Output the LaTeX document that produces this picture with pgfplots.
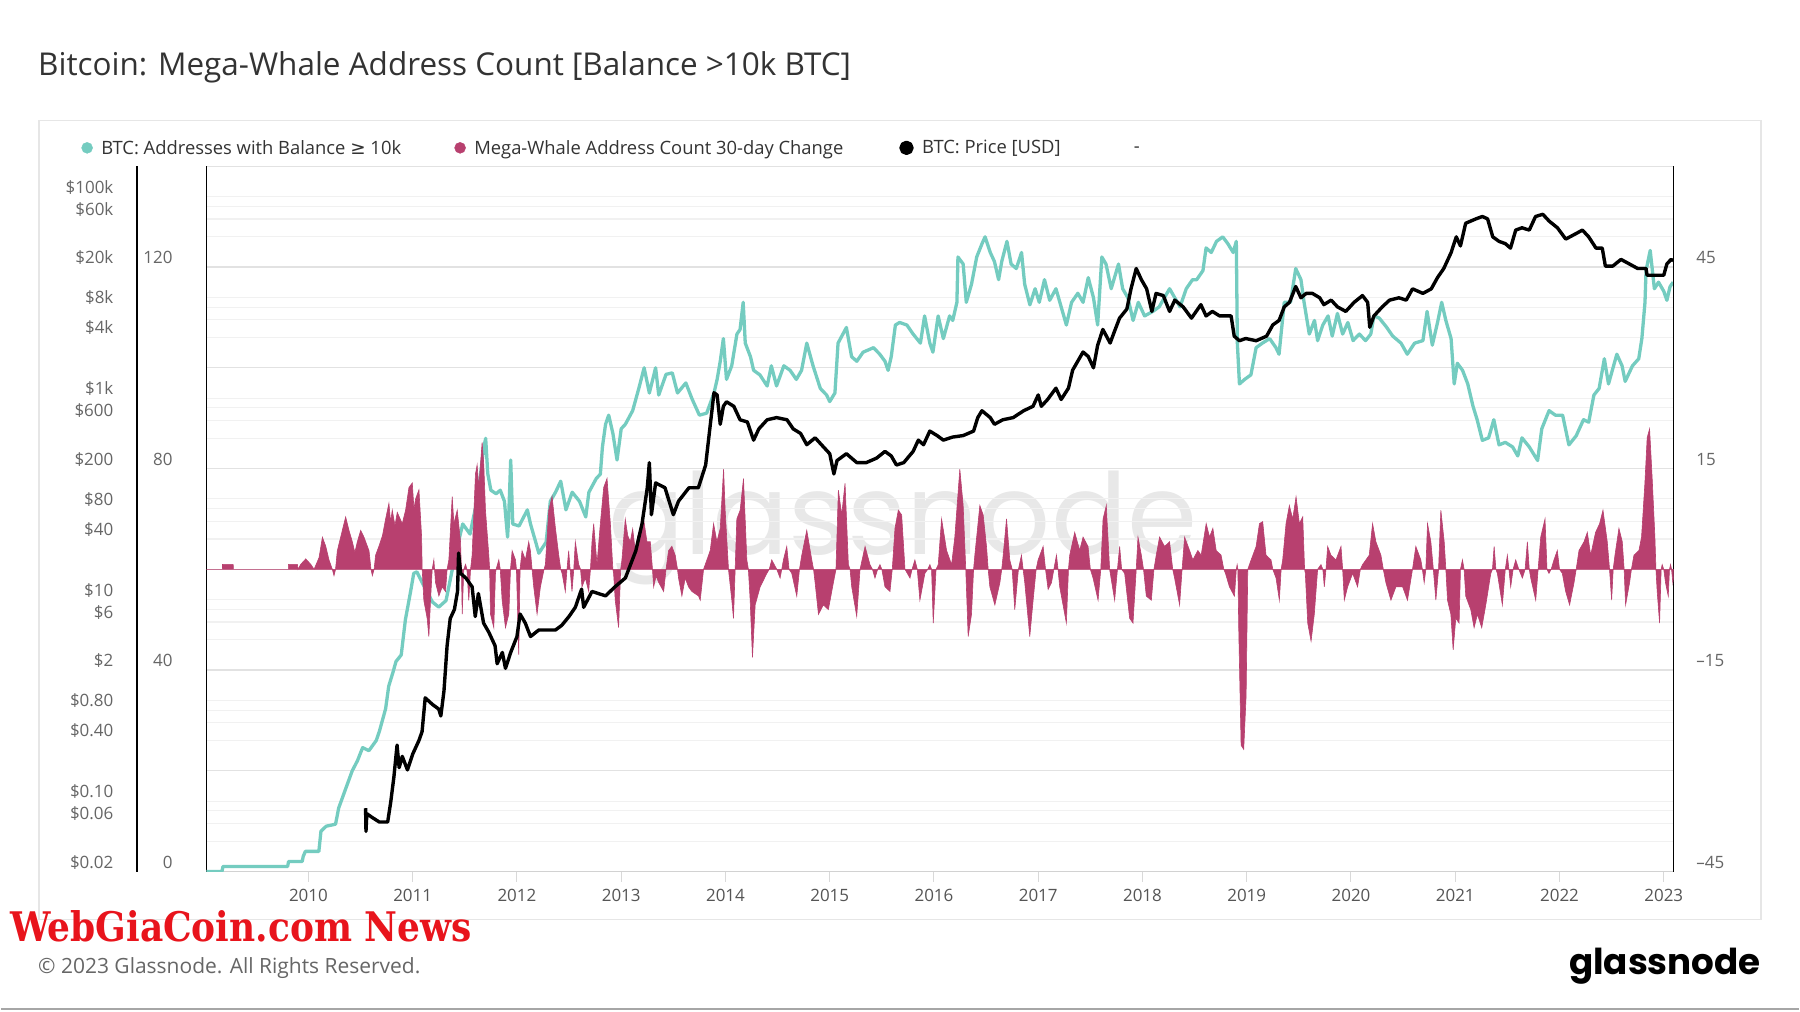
\documentclass[border=0pt]{standalone}
\usepackage{fontspec}
\usepackage{graphicx}
\usepackage{pgfplots}
\pgfplotsset{compat=1.18}
\setmainfont{Open Sans}
\newfontfamily\symb{DejaVu Sans}
\newfontfamily\logofont{Poppins}
\newfontfamily\wgfont{DejaVu Serif}
\definecolor{teal1}{HTML}{74CCC0}
\definecolor{mag}{HTML}{B8406F}
\definecolor{gridA}{HTML}{E2E2E2}
\definecolor{gridB}{HTML}{F1F1F1}
\definecolor{tickc}{HTML}{666666}
\definecolor{yearc}{HTML}{555555}
\definecolor{titlec}{HTML}{333333}
\definecolor{wgred}{HTML}{E8141C}
\definecolor{wm}{HTML}{E8E8E8}
\definecolor{framec}{HTML}{E6E6E6}
\pgfplotsset{
  base/.style={at={(205.5pt,-872.5pt)}, anchor=south west, scale only axis,
    width=1469pt, height=706pt, xmin=2009.02, xmax=2023.095},
  tickfont/.style={font=\fontsize{17}{17}\selectfont},
}
\begin{document}
\begin{tikzpicture}[x=1pt,y=1pt]
\fill[white] (0,0) rectangle (1800,-1013);
\draw[framec, line width=1.5pt] (38,-120.5) rectangle (1762,-920.7);
\node[anchor=base west, inner sep=0pt, text=titlec, font=\fontsize{31.5}{33}\selectfont] at (37,-76) {Bitcoin: Mega-Whale Address Count [Balance >10k BTC]};
\node[anchor=base west, inner sep=0pt, text=wm] at (608,-555) {\resizebox{589pt}{!}{\logofont glassnode}};

% price axis: grid and labels
\begin{axis}[base, ymode=log, ymin=0.02, ymax=200000, xtick=\empty,
  ytick={0.02,0.04,0.06,0.08,0.1,0.2,0.4,0.6,0.8,1,2,4,6,8,10,20,40,60,80,100,200,400,600,800,1000,2000,4000,6000,8000,10000,20000,40000,60000,80000,100000},
  yticklabels={\$0.02,,\$0.06,,\$0.10,,\$0.40,,\$0.80,,\$2,,\$6,,\$10,,\$40,,\$80,,\$200,,\$600,,\$1k,,\$4k,,\$8k,,\$20k,,\$60k,,\$100k},
  ymajorgrids, major grid style={gridB, line width=1.1pt},
  axis line style={draw=none}, ytick style={draw=none}, major tick length=0pt,
  yticklabel style={anchor=east, inner sep=0pt, xshift=-92.8pt, yshift=9.5pt, text=tickc, tickfont}]
\end{axis}

% count axis
\begin{axis}[base, ymin=0, ymax=140, ytick={0,20,...,140}, yticklabels={0,,40,,80,,120,,},
  ymajorgrids, major grid style={gridA, line width=1.3pt},
  axis x line*=bottom, axis y line*=left,
  x axis line style={-, draw=gray!35, line width=1.2pt},
  y axis line style={-, draw=black, line width=1.5pt},
  xtick={2010,2011,2012,2013,2014,2015,2016,2017,2018,2019,2020,2021,2022,2023},
  xticklabels={2010,2011,2012,2013,2014,2015,2016,2017,2018,2019,2020,2021,2022,2023},
  xtick style={draw=gray!30, line width=1pt}, ytick style={draw=none},
  tick align=outside, major tick length=10pt,
  yticklabel style={anchor=east, inner sep=0pt, xshift=-23.5pt, yshift=9.5pt, text=tickc, tickfont},
  xticklabel style={anchor=base, inner sep=0pt, yshift=-20pt, text=yearc, tickfont}]
\addplot[teal1, line width=3.3pt, line join=round] table {
x y
2009.02 0
2009.17 0
2009.18 1
2009.80 1
2009.81 2
2009.94 2
2009.95 3
2009.97 4
2010.10 4
2010.12 8
2010.17 9
2010.26 9.4
2010.29 12.6
2010.36 16.6
2010.42 20
2010.47 22
2010.52 24.6
2010.58 24
2010.65 26
2010.68 27.8
2010.74 32.3
2010.77 36.8
2010.81 39.5
2010.84 41.7
2010.89 43
2010.93 50
2010.98 55.6
2011.01 59.2
2011.04 59.5
2011.10 57
2011.19 53.5
2011.25 52.5
2011.32 53.8
2011.38 60
2011.44 65.5
2011.48 69
2011.55 67
2011.60 72
2011.64 77
2011.68 84
2011.70 86
2011.72 79
2011.75 75.7
2011.80 75
2011.84 75.7
2011.88 73.5
2011.91 66.4
2011.92 70
2011.94 81.7
2011.96 69
2012.02 68.6
2012.10 71.8
2012.13 69
2012.18 65.4
2012.21 63.2
2012.28 65.4
2012.32 73.5
2012.37 75.3
2012.42 77.5
2012.47 71.8
2012.53 75.3
2012.60 73.5
2012.66 70.4
2012.69 75.3
2012.76 78
2012.80 78.9
2012.82 84.3
2012.85 88.8
2012.88 90.6
2012.92 87
2012.96 81.7
2013.00 87.9
2013.04 88.8
2013.11 91.5
2013.17 96
2013.22 100
2013.27 95
2013.33 100
2013.36 94.6
2013.43 98.7
2013.49 99
2013.54 95
2013.62 97
2013.68 93.8
2013.75 90.6
2013.82 91
2013.89 95
2013.92 97.7
2013.95 101.3
2013.98 105.8
2014.01 97.7
2014.06 100.4
2014.11 106.7
2014.14 107.6
2014.17 113
2014.19 104.9
2014.24 102.2
2014.27 99.5
2014.33 98.6
2014.40 96.4
2014.44 100.4
2014.49 96.4
2014.56 100.4
2014.62 99.5
2014.68 97.7
2014.73 99.5
2014.78 104.9
2014.84 100.4
2014.91 95.9
2014.97 94.6
2015.00 93.3
2015.05 95
2015.08 104.9
2015.16 108
2015.21 102.2
2015.26 101.3
2015.32 103.1
2015.42 104
2015.48 102.7
2015.53 101.3
2015.56 99.5
2015.59 102.2
2015.63 108.5
2015.67 109
2015.74 108.5
2015.80 106.7
2015.87 104.9
2015.91 110.3
2015.96 104.9
2015.99 103.1
2016.04 110.3
2016.09 105.8
2016.15 110.3
2016.18 109.4
2016.22 113
2016.23 122
2016.28 120.6
2016.31 113
2016.36 116.6
2016.41 122
2016.46 124.6
2016.49 126
2016.54 122.9
2016.58 121.1
2016.62 117.5
2016.65 121.1
2016.70 125.1
2016.74 120.6
2016.79 119.7
2016.84 122.9
2016.87 116.6
2016.92 112.5
2016.97 115.7
2017.01 113
2017.06 117.5
2017.11 113.4
2017.17 115.7
2017.22 112.1
2017.27 108.5
2017.32 113
2017.38 114.8
2017.43 113
2017.48 117.9
2017.53 113.9
2017.57 108.5
2017.61 122
2017.65 120.6
2017.70 115.7
2017.77 120.6
2017.81 115.7
2017.86 113.9
2017.91 109.4
2017.96 113
2018.02 110.3
2018.10 111.2
2018.16 112.1
2018.26 115.7
2018.36 112.1
2018.42 115.7
2018.48 117.5
2018.52 117.5
2018.58 119.3
2018.61 123.8
2018.66 122.9
2018.71 125.1
2018.77 126
2018.82 124.6
2018.87 122.9
2018.90 125.1
2018.91 104.9
2018.93 96.8
2018.98 97.7
2019.04 98.6
2019.09 104
2019.15 104.9
2019.22 105.8
2019.28 104
2019.31 102.7
2019.36 113
2019.42 113
2019.47 119.7
2019.52 117.5
2019.55 113
2019.60 106.7
2019.65 109.4
2019.68 105.4
2019.73 108.5
2019.78 110.3
2019.82 106.3
2019.87 110.8
2019.92 106.7
2019.97 109
2020.02 105.4
2020.08 106.7
2020.14 105.4
2020.19 106.7
2020.22 110.3
2020.27 109.9
2020.34 108.1
2020.40 106.3
2020.48 104.9
2020.54 102.7
2020.61 104.9
2020.69 105.4
2020.73 111.2
2020.78 104.5
2020.83 109
2020.87 113
2020.91 109.4
2020.96 105.8
2020.99 96.8
2021.02 100.9
2021.07 99.5
2021.12 96.8
2021.17 92.4
2021.21 89.7
2021.26 85.6
2021.32 86.1
2021.37 89.7
2021.42 84.7
2021.48 85.2
2021.55 84.3
2021.60 82.5
2021.64 86.1
2021.71 84.3
2021.79 81.6
2021.83 87.9
2021.90 91.5
2021.96 90.6
2022.03 90.6
2022.09 84.7
2022.16 86.5
2022.23 89.7
2022.28 89.2
2022.33 94.6
2022.38 95.9
2022.43 101.8
2022.47 96.8
2022.55 102.7
2022.60 100.4
2022.63 97.3
2022.70 100.4
2022.76 101.8
2022.79 105.8
2022.82 113
2022.83 119.3
2022.87 123.3
2022.91 115.7
2022.95 117
2023.00 115.2
2023.03 113.4
2023.06 116.1
2023.09 117
};
\end{axis}

% 30-day change axis (right)
\begin{axis}[base, ymin=-45, ymax=60, axis x line=none, axis y line*=right,
  y axis line style={-, draw=black, line width=1.5pt},
  ytick={-45,-15,15,45}, yticklabels={\textendash45,\textendash15,15,45},
  ytick style={draw=none}, major tick length=0pt, xtick=\empty,
  yticklabel style={anchor=west, inner sep=0pt, xshift=22.5pt, yshift=9.5pt, text=tickc, tickfont}]
\addplot[fill=mag, draw=mag, line width=0.6pt] table {
x y
2009.02 0
2009.175 0
2009.176 0.74
2009.278 0.74
2009.28 0
2009.807 0
2009.808 0.74
2009.894 0.74
2009.90 0
2009.926 0.74
2009.974 1.55
2010.022 0.74
2010.054 0
2010.102 1.75
2010.134 4.78
2010.166 3.43
2010.197 1.41
2010.229 0
2010.245 -0.94
2010.26 0
2010.277 2.76
2010.325 5.79
2010.357 7.8
2010.373 6.79
2010.389 5.79
2010.421 4.1
2010.445 2.5
2010.469 4.1
2010.501 5.79
2010.533 4.78
2010.581 2.76
2010.60 0
2010.613 -0.94
2010.63 0
2010.644 2.09
2010.676 3.43
2010.71 5
2010.74 7.47
2010.772 9.82
2010.788 7
2010.804 8.81
2010.83 6.5
2010.852 8.48
2010.9 6.79
2010.932 8.81
2010.964 12.18
2010.996 12.85
2011.012 9
2011.028 10.49
2011.06 11.84
2011.085 5
2011.091 0
2011.107 -4.64
2011.139 -7.33
2011.155 -10.02
2011.171 -4.64
2011.187 0
2011.203 1.41
2011.219 -1.95
2011.251 -3.97
2011.283 -2.62
2011.315 -3.3
2011.33 0
2011.347 1.41
2011.379 10.83
2011.395 6.79
2011.427 8.81
2011.459 4.1
2011.467 0
2011.475 -6.66
2011.49 0
2011.507 0.74
2011.52 0
2011.538 -4.64
2011.555 0
2011.57 2.09
2011.602 14.19
2011.618 15.54
2011.634 12.18
2011.666 18.9
2011.682 15.54
2011.698 8.81
2011.73 2.09
2011.738 0
2011.746 -6.66
2011.778 -8.68
2011.794 -0.6
2011.80 0
2011.826 1.41
2011.84 0
2011.858 -4.64
2011.89 -8.68
2011.922 -6.66
2011.938 0
2011.954 2.76
2011.986 1.41
2011.995 0
2012.001 -3.3
2012.017 -12.71
2012.03 0
2012.049 2.76
2012.081 1.41
2012.113 4.1
2012.129 2.76
2012.145 0
2012.161 -2.62
2012.193 -6.66
2012.225 -2.62
2012.26 0
2012.273 0.74
2012.305 8.81
2012.337 10.83
2012.369 6.12
2012.401 2.09
2012.42 0
2012.433 -0.6
2012.464 -3.3
2012.48 0
2012.496 2.76
2012.51 0
2012.528 -3.3
2012.545 0
2012.56 4.1
2012.592 0.74
2012.61 0
2012.624 -2.62
2012.656 -1.3
2012.688 -3.3
2012.705 0
2012.72 4.1
2012.736 6.79
2012.768 0.74
2012.8 6.79
2012.832 12.18
2012.864 13.52
2012.896 6.79
2012.92 0
2012.927 -0.6
2012.943 -4.64
2012.975 -8.68
2012.995 0
2013.007 1.41
2013.039 7.47
2013.063 5
2013.087 4.1
2013.11 6
2013.135 2.76
2013.16 5
2013.183 6.12
2013.215 7.47
2013.247 4.1
2013.279 4.1
2013.30 0
2013.311 -2.62
2013.335 -1
2013.359 -1.95
2013.407 -3.3
2013.43 0
2013.454 2.76
2013.486 3.43
2013.518 2.09
2013.54 0
2013.55 -1.3
2013.582 -3.97
2013.614 -1.3
2013.646 -2.62
2013.678 -3.3
2013.742 -3.97
2013.758 -4.6
2013.79 0
2013.822 1.4
2013.854 2.8
2013.886 6.8
2013.918 4.1
2013.95 6.1
2013.982 14.9
2013.997 8.8
2014.029 0
2014.061 -4.6
2014.077 -7.3
2014.093 0
2014.109 7.5
2014.141 8.8
2014.173 13.5
2014.205 1.4
2014.22 0
2014.237 -4.6
2014.259 -13.1
2014.285 -5.3
2014.333 -2.6
2014.397 -0.6
2014.42 0
2014.444 1.4
2014.492 0
2014.524 -1.3
2014.54 0
2014.556 1.4
2014.588 3.4
2014.61 0
2014.636 -0.6
2014.684 -4
2014.71 0
2014.732 2.1
2014.78 5.8
2014.828 1.4
2014.845 0
2014.86 -2
2014.892 -6.7
2014.939 -5.3
2014.987 -6
2015.035 -2
2015.06 0
2015.083 11.8
2015.115 8.1
2015.147 12.8
2015.179 0.7
2015.195 0
2015.211 -2.6
2015.259 -7
2015.291 0
2015.339 3.4
2015.386 0.7
2015.41 0
2015.434 -1.3
2015.46 0
2015.482 0.7
2015.50 0
2015.53 -2.6
2015.578 -3.3
2015.60 0
2015.626 6.1
2015.658 8.8
2015.69 8.1
2015.722 0
2015.77 -1.3
2015.79 0
2015.817 1.4
2015.84 0
2015.865 -4.6
2015.913 -0.6
2015.94 0
2015.961 0.7
2015.977 0
2015.993 -8
2016.02 0
2016.041 0.7
2016.073 7.5
2016.121 2.8
2016.169 0.7
2016.2 4.8
2016.248 14.9
2016.28 9.5
2016.305 0
2016.328 -10
2016.36 -6.7
2016.38 0
2016.392 2.1
2016.44 9.5
2016.472 8.1
2016.504 3.4
2016.52 0
2016.536 -2.6
2016.584 -5.3
2016.632 -2
2016.65 0
2016.664 2.1
2016.696 7.5
2016.727 1.4
2016.75 0
2016.775 -6
2016.81 0
2016.839 2.1
2016.855 0
2016.871 -2
2016.919 -10
2016.951 -4.6
2016.98 0
2016.999 1.4
2017.047 3.4
2017.07 0
2017.095 -3
2017.127 -2
2017.15 0
2017.175 2.1
2017.19 0
2017.206 -2.6
2017.27 -8
2017.29 0
2017.302 2.1
2017.35 5.5
2017.398 2.8
2017.43 4.8
2017.478 3.4
2017.50 0
2017.526 -1.3
2017.574 -4.6
2017.60 0
2017.622 7.5
2017.653 9.5
2017.685 0
2017.733 -4.6
2017.76 0
2017.781 3.4
2017.80 0
2017.829 -0.6
2017.877 -7.3
2017.909 -8
2017.94 0
2017.957 4.8
2017.989 2.1
2018.01 0
2018.037 -4
2018.085 -4.6
2018.11 0
2018.132 2.1
2018.164 4.8
2018.212 3.4
2018.26 4.1
2018.29 0
2018.308 -1.3
2018.356 -5.3
2018.38 0
2018.404 4.8
2018.452 2.8
2018.483 1.4
2018.531 2.8
2018.563 2.1
2018.611 6.8
2018.643 4.8
2018.675 6.1
2018.707 2.8
2018.754 2.1
2018.78 0
2018.796 -0.6
2018.834 -2.6
2018.882 -4
2018.90 0
2018.908 0.7
2018.915 0
2018.924 -9.4
2018.946 -26.2
2018.971 -26.8
2018.994 -18.8
2019.010 0
2019.042 1.4
2019.090 3.4
2019.122 6.8
2019.153 7.1
2019.185 2.1
2019.233 1.4
2019.25 0
2019.281 -1.3
2019.313 -4.6
2019.33 0
2019.345 1.4
2019.377 6.8
2019.409 9.5
2019.441 7.5
2019.473 10.8
2019.505 6.8
2019.537 7.8
2019.555 0
2019.562 -0.6
2019.585 -8
2019.617 -10.7
2019.648 -6.7
2019.680 0
2019.712 0.7
2019.73 0
2019.744 -2.6
2019.76 0
2019.776 3.4
2019.808 2.1
2019.856 1.4
2019.904 3.4
2019.92 0
2019.936 -4.6
2019.968 -2.6
2020.016 -0.6
2020.063 -2.6
2020.09 0
2020.111 0.7
2020.175 2.1
2020.207 6.8
2020.239 4.1
2020.287 2.1
2020.31 0
2020.335 -2
2020.383 -4.6
2020.431 -2.6
2020.495 -2.6
2020.542 -4.6
2020.590 0
2020.622 3.4
2020.670 1.4
2020.685 0
2020.702 -2
2020.718 0
2020.734 6.8
2020.766 4.1
2020.79 0
2020.814 -4.6
2020.84 0
2020.862 8.8
2020.894 4.1
2020.91 0
2020.926 -4.6
2020.958 -6.7
2020.980 -12
2021.005 -7.3
2021.037 -8
2021.05 0
2021.069 1.4
2021.085 0
2021.101 -4
2021.149 -6
2021.181 -8.7
2021.213 -6.7
2021.254 -8.7
2021.293 -5.3
2021.341 -0.6
2021.357 0
2021.373 3.4
2021.39 0
2021.404 -0.6
2021.452 -5.3
2021.48 0
2021.500 2.1
2021.515 0
2021.532 -2.6
2021.555 0
2021.580 1.4
2021.61 0
2021.644 -1.3
2021.67 0
2021.692 4.1
2021.71 0
2021.724 -1.3
2021.772 -4.6
2021.795 0
2021.820 4.8
2021.861 7.5
2021.88 0
2021.899 -0.6
2021.92 0
2021.947 1.4
2021.979 2.8
2022.00 0
2022.027 -0.6
2022.059 -3.3
2022.097 -5.3
2022.139 -2
2022.16 0
2022.187 2.8
2022.235 4.1
2022.267 5.5
2022.299 2.1
2022.346 5.5
2022.385 6.8
2022.417 8.8
2022.458 4.1
2022.48 0
2022.500 -4.6
2022.515 0
2022.532 2.1
2022.570 6.1
2022.602 4.1
2022.62 0
2022.634 -5.3
2022.672 -2
2022.69 0
2022.714 2.1
2022.762 2.8
2022.787 4.8
2022.819 12.8
2022.841 19.6
2022.864 20.9
2022.889 13.5
2022.915 4.8
2022.925 0
2022.937 -3.3
2022.960 -8
2022.975 0
2022.985 0.7
2023.00 0
2023.017 -2
2023.043 -4
2023.055 0
2023.065 0.7
2023.075 0
2023.087 -2
2023.095 -1
} \closedcycle;
\end{axis}

% price line + legend
\begin{axis}[base, ymode=log, ymin=0.02, ymax=200000, hide axis,
  legend columns=4, legend cell align=left,
  legend image code/.code={\fill[#1] (0pt,0pt) circle (5.5pt);},
  legend style={at={(-0.08509,1.0262)}, anchor=west, draw=none, fill=none,
    inner sep=0pt, outer sep=0pt, text=titlec,
    font=\fontsize{18.4}{18.4}\selectfont, nodes={inner sep=0pt},
    /tikz/every odd column/.append style={column sep=8.5pt},
    /tikz/every even column/.append style={column sep=0pt}}]
\addlegendimage{teal1, fill=teal1}
\addlegendentry{\makebox[353.5pt][l]{BTC: Addresses with Balance {\symb ≥} 10k}}
\addlegendimage{mag, fill=mag}
\addlegendentry{\makebox[425.5pt][l]{Mega-Whale Address Count 30-day Change}}
\addplot[black, line width=3.4pt, line join=round] table {
x y
2010.548 0.085
2010.552 0.05
2010.56 0.075
2010.61 0.069
2010.68 0.062
2010.76 0.062
2010.79 0.099
2010.82 0.175
2010.85 0.36
2010.87 0.215
2010.90 0.278
2010.95 0.204
2011.00 0.293
2011.06 0.40
2011.09 0.49
2011.12 1.06
2011.19 0.91
2011.25 0.82
2011.27 0.70
2011.30 1.24
2011.33 3.49
2011.36 6.49
2011.40 7.98
2011.43 12.05
2011.44 29.0
2011.46 18.2
2011.51 16.4
2011.57 13.4
2011.60 6.8
2011.63 11.5
2011.68 5.85
2011.73 4.75
2011.79 3.49
2011.81 2.31
2011.86 2.99
2011.89 2.08
2011.94 2.99
2012.00 4.30
2012.03 7.2
2012.08 5.85
2012.13 4.30
2012.21 5.0
2012.37 5.0
2012.43 5.56
2012.50 6.82
2012.56 8.39
2012.62 12.7
2012.64 8.39
2012.72 12.05
2012.85 10.9
2012.94 13.4
2013.04 16.4
2013.14 30.5
2013.20 56.8
2013.25 129
2013.27 229
2013.29 69.7
2013.33 144
2013.42 129
2013.50 69.7
2013.55 95
2013.65 129
2013.74 129
2013.81 217
2013.84 404
2013.87 750
2013.89 1132
2013.92 1076
2013.95 550
2013.98 830
2014.01 920
2014.08 830
2014.14 610
2014.21 580
2014.27 383
2014.32 495
2014.40 610
2014.49 641
2014.59 610
2014.65 495
2014.72 447
2014.78 345
2014.86 404
2014.94 328
2015.00 281
2015.04 177
2015.07 240
2015.16 281
2015.26 229
2015.35 229
2015.45 254
2015.53 296
2015.59 267
2015.64 217
2015.71 229
2015.80 296
2015.85 383
2015.90 345
2015.96 471
2016.03 425
2016.09 383
2016.18 411
2016.28 425
2016.38 471
2016.42 641
2016.46 750
2016.54 641
2016.58 550
2016.66 610
2016.76 641
2016.86 750
2016.95 830
2017.00 1076
2017.03 830
2017.09 970
2017.17 1256
2017.22 970
2017.29 1256
2017.33 1897
2017.38 2333
2017.43 2871
2017.48 2588
2017.53 2000
2017.57 3350
2017.62 4808
2017.69 3524
2017.73 4560
2017.78 6223
2017.85 7656
2017.89 12160
2017.94 19360
2017.99 14960
2018.04 12160
2018.09 7261
2018.13 10960
2018.20 10420
2018.26 7261
2018.31 9397
2018.39 8054
2018.47 6223
2018.56 8472
2018.61 6546
2018.67 7261
2018.74 6546
2018.85 6546
2018.88 4121
2018.93 3715
2018.99 3908
2019.09 3715
2019.19 4121
2019.25 5333
2019.31 5902
2019.36 8054
2019.41 8933
2019.47 12820
2019.52 9908
2019.57 10960
2019.63 10960
2019.70 9908
2019.74 8472
2019.81 9397
2019.87 8054
2019.95 7261
2020.03 8933
2020.11 10420
2020.16 8933
2020.18 5058
2020.22 6546
2020.30 8054
2020.37 9397
2020.46 9908
2020.53 9397
2020.59 12160
2020.69 10960
2020.77 12160
2020.83 15740
2020.89 19360
2020.96 27800
2021.01 39900
2021.05 32430
2021.10 54450
2021.15 57280
2021.20 60260
2021.26 63530
2021.31 60260
2021.36 39900
2021.42 35970
2021.48 34200
2021.53 30830
2021.58 46560
2021.64 49090
2021.71 46560
2021.77 63530
2021.84 66830
2021.90 57280
2021.98 49090
2022.06 37930
2022.14 41980
2022.22 46560
2022.28 39900
2022.35 30830
2022.41 30830
2022.44 20420
2022.51 20420
2022.59 23820
2022.67 21480
2022.75 19360
2022.83 19360
2022.84 16600
2022.92 16600
2023.00 16600
2023.03 21480
2023.07 23820
2023.09 23120
};
\addlegendentry{\makebox[203.5pt][l]{BTC: Price [USD]}}
\addlegendimage{empty legend}
\addlegendentry{\raisebox{-5pt}{-}}
\end{axis}

\draw[black, line width=1.5pt] (136,-166.5) -- (136,-872.5);
\node[anchor=south west, inner sep=0pt] at (9,-943.7) {\resizebox{462pt}{31pt}{\wgfont\bfseries\color{wgred}WebGiaCoin.com News}};
\node[anchor=base west, inner sep=0pt, text=tickc, font=\fontsize{21}{21}\selectfont] at (37,-974.5) {© 2023 Glassnode. All Rights Reserved.};
\node[anchor=base east, inner sep=0pt] at (1762,-976) {\resizebox{192pt}{!}{\logofont\bfseries glassnode}};
\draw[gray!70, line width=2pt] (0,-1010) -- (1800,-1010);
\end{tikzpicture}
\end{document}
